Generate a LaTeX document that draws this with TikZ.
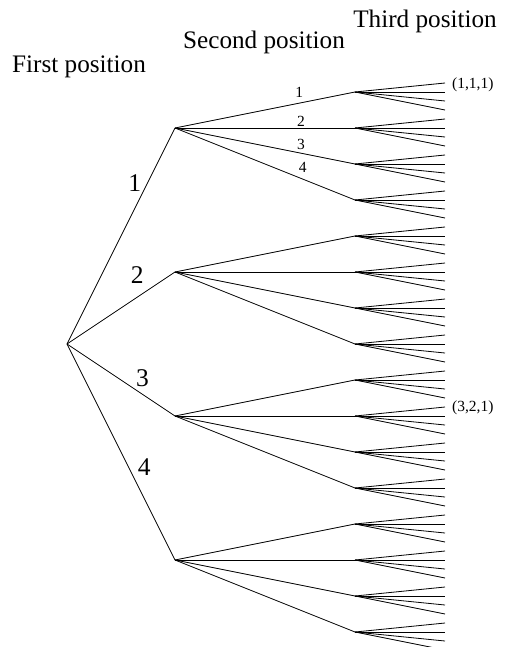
\documentclass[tikz,border=0pt]{standalone}
\usepackage{fontspec}
\setmainfont{Liberation Serif}
\usetikzlibrary{positioning}

\begin{document}
\begin{tikzpicture}[
  x=1pt, y=-1pt,
  branch/.style={line width=0.8pt},
  heading/.style={font=\fontsize{25.2}{29}\selectfont, inner sep=0pt},
  biglabel/.style={font=\fontsize{25.5}{29}\selectfont, inner sep=1pt},
  smalllabel/.style={font=\fontsize{15.5}{18}\selectfont, inner sep=1pt}
]
\useasboundingbox (0,0) rectangle (507,647);

% tree points: first, second and third position
\coordinate (root) at (67,344);
\foreach \i/\y in {1/128,2/272,3/416,4/560} {
  \coordinate (n\i) at (175,\y);
  \foreach \j/\dy in {1/-36,2/0,3/36,4/72} {
    \coordinate (n\i\j) at (355,\y+\dy);
    \foreach \k/\ey in {1/-9,2/0,3/9,4/18}
      \coordinate (n\i\j\k) at (445,\y+\dy+\ey);
  }
}

% headings
\node[heading] (first) at (79,67) {First position};
\node[heading] (second) at (264,42) {Second position};
\node[heading] (third) at (425,21) {Third position};

% first position
\draw[branch] (root) -- node[biglabel, pos=0.745, left=5pt] {1} (n1);
\draw[branch] (root) -- node[biglabel, pos=0.65, above=12pt] {2} (n2);
\draw[branch] (root) -- node[biglabel, pos=0.70, above=6pt] {3} (n3);
\draw[branch] (root) -- node[biglabel, pos=0.57, right=8pt] {4} (n4);

% second position
\draw[branch] (n1) -- node[smalllabel, pos=0.69, above=4pt] {1} (n11);
\draw[branch] (n1) -- node[smalllabel, pos=0.70, above=0pt] {2} (n12);
\draw[branch] (n1) -- node[smalllabel, pos=0.70, above=2pt] {3} (n13);
\draw[branch] (n1) -- node[smalllabel, pos=0.71, above=5pt] {4} (n14);
\foreach \i in {2,3,4}
  \foreach \j in {1,...,4}
    \draw[branch] (n\i) -- (n\i\j);

% third position
\foreach \i in {1,...,4}
  \foreach \j in {1,...,4}
    \foreach \k in {1,...,4}
      \draw[branch] (n\i\j) -- (n\i\j\k);

\node[smalllabel, right=6pt of n111, yshift=-2pt] (t111) {(1,1,1)};
\node[smalllabel, right=6pt of n321, yshift=-1pt] (t321) {(3,2,1)};
\end{tikzpicture}
\end{document}
